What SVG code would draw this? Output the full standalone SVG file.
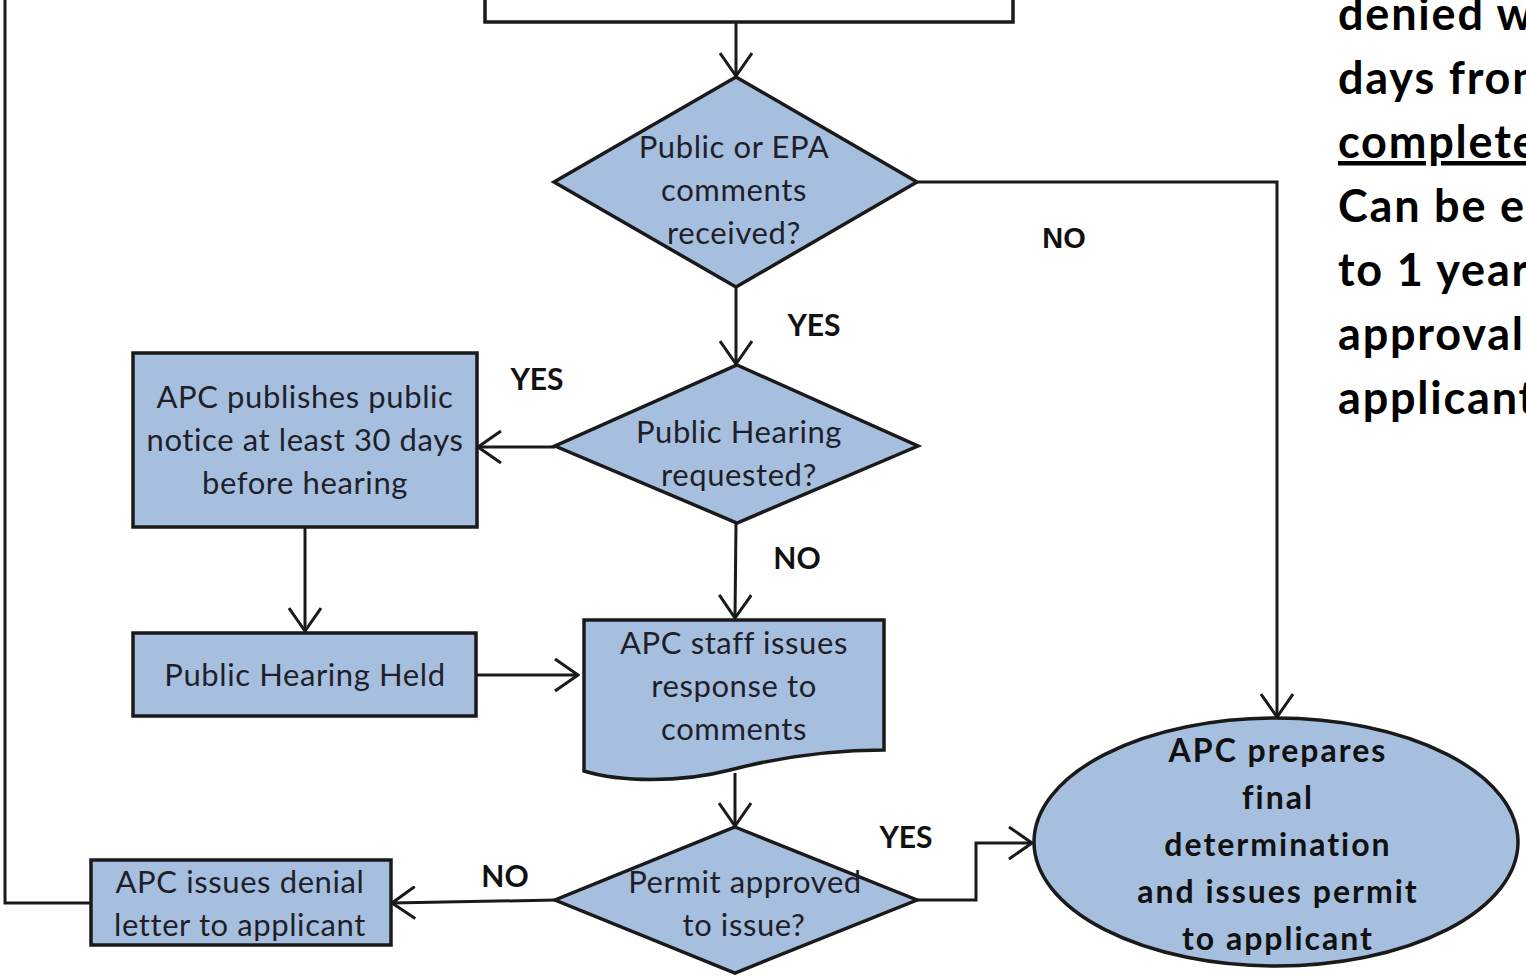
<svg xmlns="http://www.w3.org/2000/svg" width="1526" height="976" viewBox="0 0 1526 976">
<defs>
<style>
.shape{fill:#A7BFDE;stroke:#1a1a1a;stroke-width:3.5;stroke-linejoin:miter}
.line{fill:none;stroke:#1a1a1a;stroke-width:3}
.t{font-family:Lato,"Open Sans","Liberation Sans",sans-serif;font-size:31px;letter-spacing:0.6px;fill:#1f1f2a;text-anchor:middle}
.tb{font-family:Lato,"Open Sans","Liberation Sans",sans-serif;font-size:32px;letter-spacing:2px;font-weight:bold;fill:#111;text-anchor:middle}
.lab{font-family:Lato,"Open Sans","Liberation Sans",sans-serif;font-size:30px;font-weight:bold;fill:#111;text-anchor:middle}
.side{font-family:Lato,"Open Sans","Liberation Sans",sans-serif;font-size:45px;letter-spacing:1.8px;font-weight:bold;fill:#000}
</style>
<marker id="arr" markerUnits="userSpaceOnUse" viewBox="0 0 26 34" refX="24" refY="17" markerWidth="26" markerHeight="34" orient="auto">
<path d="M1,1 L24,17 L1,33" fill="none" stroke="#1a1a1a" stroke-width="3"/>
</marker>
</defs>
<rect width="1526" height="976" fill="#fff"/>

<g id="connectors">
<path class="line" d="M736,22 V76" marker-end="url(#arr)"/>
<path class="line" d="M917,182 H1277 V717" marker-end="url(#arr)"/>
<path class="line" d="M736,287 V364" marker-end="url(#arr)"/>
<path class="line" d="M555,447 H478" marker-end="url(#arr)"/>
<path class="line" d="M305,527 V631" marker-end="url(#arr)"/>
<path class="line" d="M476,675 H578" marker-end="url(#arr)"/>
<path class="line" d="M736,523 L735,618" marker-end="url(#arr)"/>
<path class="line" d="M735,773 V826" marker-end="url(#arr)"/>
<path class="line" d="M917,900 H976 V843 H1032" marker-end="url(#arr)"/>
<path class="line" d="M556,900 L392,903" marker-end="url(#arr)"/>
<path class="line" d="M91,903 H5 V0"/>
</g>

<g id="label-no-1"><text x="1064" y="248" style="font-family:'Liberation Sans',Arial,sans-serif;font-size:29px;font-weight:bold;fill:#111;text-anchor:middle">NO</text></g>
<g id="label-yes-1"><text class="lab" x="814" y="336">YES</text></g>
<g id="label-yes-2"><text class="lab" x="537" y="390">YES</text></g>
<g id="label-no-2"><text class="lab" x="797" y="569">NO</text></g>
<g id="label-yes-3"><text class="lab" x="906" y="848">YES</text></g>
<g id="label-no-3"><text class="lab" x="505" y="887">NO</text></g>

<g id="top-box">
<rect x="485" y="-60" width="528" height="82" fill="#fff" stroke="#1a1a1a" stroke-width="3.5"/>
</g>

<g id="d-comments">
<polygon class="shape" points="736,77 917,182 736,287 554,182"/>
<text class="t" x="734" y="158">Public or EPA</text>
<text class="t" x="734" y="201">comments</text>
<text class="t" x="734" y="244">received?</text>
</g>

<g id="d-hearing">
<polygon class="shape" points="737,365 918,446 737,523 555,446"/>
<text class="t" x="739" y="443">Public Hearing</text>
<text class="t" x="739" y="486">requested?</text>
</g>

<g id="b-notice">
<rect class="shape" x="133" y="353" width="344" height="174"/>
<text class="t" x="305" y="408">APC publishes public</text>
<text class="t" x="305" y="451">notice at least 30 days</text>
<text class="t" x="305" y="494">before hearing</text>
</g>

<g id="b-held">
<rect class="shape" x="133" y="633" width="343" height="83"/>
<text class="t" x="305" y="686">Public Hearing Held</text>
</g>

<g id="doc-response">
<path class="shape" d="M584,620 H884 V750 C830,750 780,757 730,770 C680,783 620,782 584,771 Z"/>
<text class="t" x="734" y="654">APC staff issues</text>
<text class="t" x="734" y="697">response to</text>
<text class="t" x="734" y="740">comments</text>
</g>

<g id="d-permit">
<polygon class="shape" points="735,827 917,900 735,973 555,900"/>
<text class="t" x="745" y="893">Permit approved</text>
<text class="t" x="744" y="936">to issue?</text>
</g>

<g id="b-denial">
<rect class="shape" x="91" y="860" width="300" height="85"/>
<text class="t" x="240" y="893">APC issues denial</text>
<text class="t" x="240" y="936">letter to applicant</text>
</g>

<g id="e-final">
<ellipse class="shape" cx="1276" cy="842" rx="242" ry="124"/>
<text class="tb" x="1278" y="762">APC prepares</text>
<text class="tb" x="1278" y="809">final</text>
<text class="tb" x="1278" y="856">determination</text>
<text class="tb" x="1278" y="903">and issues permit</text>
<text class="tb" x="1278" y="950">to applicant</text>
</g>

<g id="side-note">
<text class="side" x="1338" y="30">denied w</text>
<text class="side" x="1338" y="94">days from</text>
<text class="side" x="1338" y="158" text-decoration="underline">complete</text>
<text class="side" x="1338" y="222">Can be e</text>
<text class="side" x="1338" y="286">to 1 year</text>
<text class="side" x="1338" y="350">approval</text>
<text class="side" x="1338" y="414">applicant</text>
</g>
</svg>
